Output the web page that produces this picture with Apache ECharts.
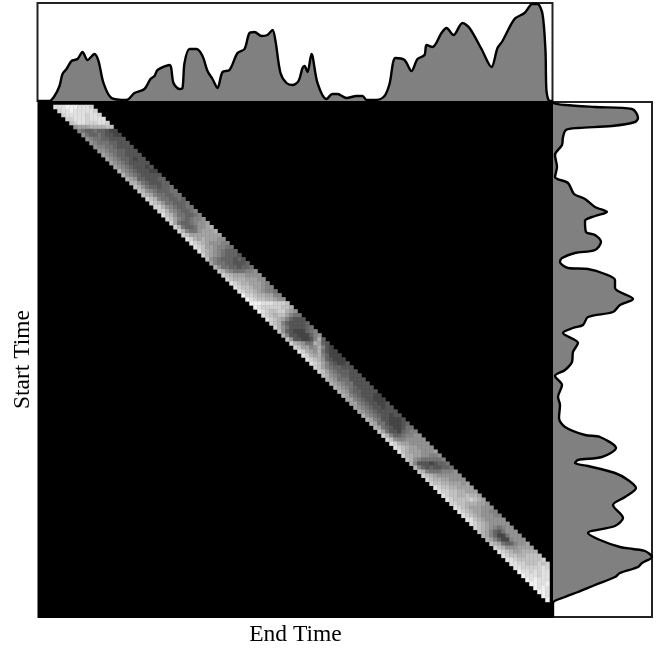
<!DOCTYPE html>
<html><head><meta charset="utf-8">
<style>html,body{margin:0;padding:0;background:#fff}#c{width:663px;height:648px}</style>
<script src="https://cdn.jsdelivr.net/npm/echarts@6/dist/echarts.min.js"></script>
</head><body><div id="c"></div>
<script>
// Tone (hex digit, 0 = black, f = white) of the band cells. One string per start-time row,
// first character next to the diagonal's lower edge.
const firstRow = 1;
const bandOffset = 3;
const bandRows = [
"dddeeedddc","cddedddddc","cdddddcddc","ccdddcdddd","bcddcccddc","8999aaaabb","7655655433","8655654433",
"8766554444","8766655444","8776654444","8876655444","9876554444","9876554344","9876544444","9876544434",
"a876544433","a876544444","a985544455","aa86544455","ba86554556","ba87655566","ba97665566","cba7665565",
"cba8665556","cca8765566","cca8765567","dba8665567","cb97656778","c965567889","ca6556889a","ca7668999a",
"cb99999999","dca9a99988","dcba988877","dcb9987766","dba9876555","ca98765554","b876555454","9766554445",
"a866554556","ba87666778","cba9998888","cbaaa99988","dcbaa99987","dcbba99877","dcbba98776","eccbaa9977",
"edcbbaa988","eeedddcccb","edcccccbba","edcbbcca98","dcbabb9766","dcba975444","cba7544445","ca86444456",
"b854333567","a744333578","b8443347a5","ca9866a954","cb9978a743","dca98a6433","dca9a75333","dcba854333",
"dcb9754334","cb97655444","cb97655544","ba87655444","a986664444","a987664444","a987654444","a986554444",
"a976544433","9976544333","9976544334","9876544344","9876544444","a876544344","a976443334","a966433345",
"a965433466","b964435677","ca75567788","cb87788888","dca9988888","dcba998888","dba9998889","caa9988778",
"ba87666667","a744434556","a754544556","ba76667778","cba9888888","cbaa998888","cbbaa99989","dcbbaa9999",
"dccbbaa999","dcbbaabaa9","dcbbbbcba9","ccbbaaa998","dcba999888","dcba998877","dcba988877","ddba988888",
"dcba988888","cba9876788","ba97546888","a975336888","a975337888","ba96557889","cba8889999","dcba99aaaa",
"dcbbaabbbb","ddcbbbbbbc","ddccbbbcbc","ddcccccdcd","eddcdcddcd","edddcddddd","ededdddddd","eeddedddee",
"edededdedd","eeddeddedd","ededdddddd","edddeedddd"
];
const cellCount = 129;
const lastCol = 127;

// Marginal density over end time
const endTimes = [0,12,17,22,25,29,34,40,45,50,57,61,66,74,89,97,107,113,117,120,132,136,142,145,147,152,159,165,170,175,180,185,192,200,207,212,217,224,230,235,238,243,249,255,261,265,267,270,274,280,289,295,300,309,319,325,329,339,347,352,358,367,374,380,387,389,395,404,409,416,425,432,444,454,460,465,477,487,495,500,505,508,509,512,515];
const endDensity = [0,0,5,15,27,32,40,42,49,41,47,40,18,3,1,8,12,22,25,31,36,18,12,13,38,52,52,45,30,22,13,29,31,48,52,68,69,65,66,71,60,28,18,16,20,33,35,29,47,18,2,7,7,3,5,5,1,1,5,17,43,41,30,42,46,56,54,68,73,66,78,73,52,34,53,60,82,88,97,97,87,50,10,0,0];

// Marginal density over start time
const startTimes = [0,1,3,5,7,16,20,24,26,28,35,43,53,65,75,81,92,97,105,110,114,119,130,133,140,148,151,156,160,166,167,172,178,186,197,203,210,215,223,226,231,241,250,260,268,274,283,295,303,316,325,333,335,346,355,358,361,364,371,378,386,395,403,416,424,431,438,445,447,449,455,461,465,471,475,483,490,495,501,515];
const startDensity = [0,0,12,42,79,85,82,59,25,13,10,9,2,4,2,15,21,32,42,54,42,32,33,42,48,42,22,9,7,15,35,52,62,62,80,67,60,35,30,20,10,25,20,19,12,2,9,5,7,6,12,32,47,63,49,25,22,35,62,75,83,72,60,70,62,35,47,67,80,92,99,89,85,67,62,42,25,12,0,0];

const xLabel = "End Time";
const yLabel = "Start Time";
const axisCats = Array.from({length: cellCount}, (_, i) => i);

const heat = [];
bandRows.forEach((s, r) => {
  [...s].forEach((ch, j) => {
    const row = r + firstRow, col = row + bandOffset + j;
    if (col <= lastCol) heat.push([col, row, parseInt(ch, 16)]);
  });
});

const hidden = {axisLine:{show:false}, axisTick:{show:false}, axisLabel:{show:false}, splitLine:{show:false}};
const nameStyle = {fontFamily:'"Liberation Serif","Times New Roman",serif', fontSize:23.5, color:'#000'};
const frame = {show:true, borderColor:'#222', borderWidth:2, backgroundColor:'#fff', outerBoundsMode:'none'};
const curve = {type:'line', symbol:'none', smooth:0.3, silent:true,
  lineStyle:{color:'#000', width:2.4}, areaStyle:{color:'#808080', opacity:1}};

const chart = echarts.init(document.getElementById('c'), null, {renderer:'canvas'});
chart.setOption({
  animation:false,
  backgroundColor:'#fff',
  grid:[
    Object.assign({left:37.5, top:3, width:515, height:98}, frame),
    Object.assign({left:553, top:102, width:99, height:515}, frame),
    {show:true, left:37.5, top:101, width:516, height:517, backgroundColor:'#000', borderWidth:0, outerBoundsMode:'none'}
  ],
  xAxis:[
    Object.assign({type:'value', gridIndex:0, min:0, max:515}, hidden),
    Object.assign({type:'value', gridIndex:1, min:0, max:99}, hidden),
    Object.assign({type:'category', gridIndex:2, data:axisCats, name:xLabel, nameLocation:'center', nameGap:5, nameTextStyle:nameStyle}, hidden)
  ],
  yAxis:[
    Object.assign({type:'value', gridIndex:0, min:0, max:98}, hidden),
    Object.assign({type:'time', gridIndex:1, min:0, max:515, inverse:true}, hidden),
    Object.assign({type:'category', gridIndex:2, data:axisCats, inverse:true, name:yLabel, nameLocation:'center', nameGap:3, nameRotate:90, nameTextStyle:nameStyle}, hidden)
  ],
  visualMap:{show:false, seriesIndex:2, min:0, max:15, inRange:{color:['#181818','#ffffff']}},
  series:[
    Object.assign({xAxisIndex:0, yAxisIndex:0, data:endTimes.map((t,i)=>[t,endDensity[i]])}, curve),
    Object.assign({xAxisIndex:1, yAxisIndex:1, data:startTimes.map((t,i)=>[startDensity[i],t])}, curve),
    {type:'heatmap', xAxisIndex:2, yAxisIndex:2, data:heat, progressive:0, silent:true, itemStyle:{borderWidth:0}, emphasis:{disabled:true}}
  ]
});
</script></body></html>
